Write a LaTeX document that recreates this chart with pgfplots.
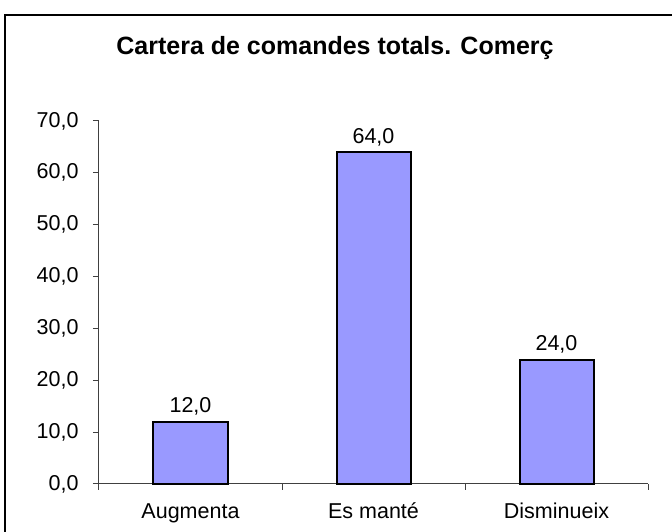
\documentclass[border=0pt]{standalone}
\usepackage{fontspec}
\setmainfont{Liberation Sans}
\usepackage{pgfplots}
\pgfplotsset{compat=1.18}
\definecolor{barblue}{RGB}{153,153,255}
\begin{document}
\begin{tikzpicture}[x=1pt,y=1pt]
\useasboundingbox (0,0) rectangle (672,532);
\draw[line width=1.5pt] (5,-5) -- (5,517) -- (680,517);
\node[anchor=base,font=\fontsize{25}{30}\selectfont\bfseries] at (335,477) {Cartera de comandes totals. Comerç};
\begin{axis}[
  at={(99pt,48pt)}, anchor=south west,
  scale only axis, width=549pt, height=363pt,
  xmin=-0.5, xmax=2.5, ymin=0, ymax=70,
  ytick={0,10,...,70},
  xtick={0,1,2},
  xticklabels={Augmenta,Es manté,Disminueix},
  minor xtick={-0.5,0.5,1.5,2.5},
  major x tick style={draw=none},
  tick align=outside,
  major tick length=6pt, minor tick length=6pt,
  axis lines*=left,
  axis line style={black!75, line width=1pt},
  every tick/.style={black!75, line width=1pt},
  tick label style={font=\fontsize{21.5}{26}\selectfont},
  yticklabel style={xshift=-11pt},
  xticklabel style={text height=16pt, text depth=5pt, yshift=-9pt},
  /pgf/number format/.cd, fixed, fixed zerofill, precision=1, use comma, assume math mode=true,
  /pgfplots/.cd,
  ybar, bar width=74pt,
  nodes near coords,
  nodes near coords style={anchor=base, yshift=9pt, font=\fontsize{21.5}{26}\selectfont, black},
  clip=false,
]
\addplot[fill=barblue, draw=black, line width=2pt] coordinates {(0,12) (1,64) (2,24)};
\end{axis}
\end{tikzpicture}
\end{document}
